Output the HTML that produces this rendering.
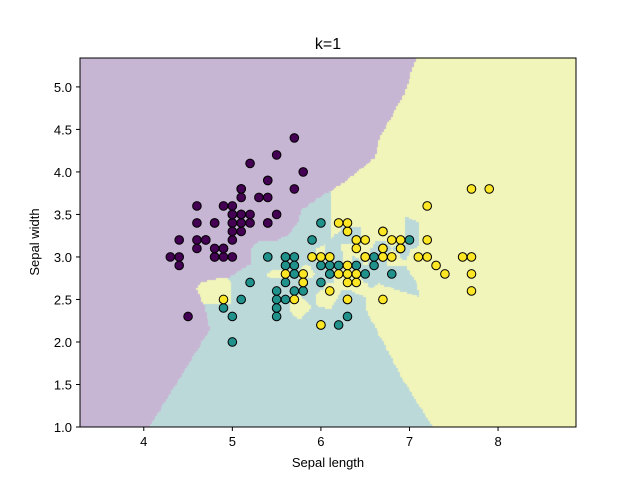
<!DOCTYPE html>
<html><head><meta charset="utf-8"><style>
body{margin:0;background:#fff;}
#wrap{position:relative;width:640px;height:480px;font-family:"Liberation Sans",sans-serif;}
canvas{position:absolute;left:0;top:0;}
</style></head><body>
<div id="wrap">
<canvas id="bg" width="640" height="480"></canvas>
<svg id="svg" width="640" height="480" style="position:absolute;left:0;top:0"></svg>
</div>
<script>
const sepalLength=[5.1,4.9,4.7,4.6,5.0,5.4,4.6,5.0,4.4,4.9,5.4,4.8,4.8,4.3,5.8,5.7,5.4,5.1,5.7,5.1,5.4,5.1,4.6,5.1,4.8,5.0,5.0,5.2,5.2,4.7,4.8,5.4,5.2,5.5,4.9,5.0,5.5,4.9,4.4,5.1,5.0,4.5,4.4,5.0,5.1,4.8,5.1,4.6,5.3,5.0,
7.0,6.4,6.9,5.5,6.5,5.7,6.3,4.9,6.6,5.2,5.0,5.9,6.0,6.1,5.6,6.7,5.6,5.8,6.2,5.6,5.9,6.1,6.3,6.1,6.4,6.6,6.8,6.7,6.0,5.7,5.5,5.5,5.8,6.0,5.4,6.0,6.7,6.3,5.6,5.5,5.5,6.1,5.8,5.0,5.6,5.7,5.7,6.2,5.1,5.7,
6.3,5.8,7.1,6.3,6.5,7.6,4.9,7.3,6.7,7.2,6.5,6.4,6.8,5.7,5.8,6.4,6.5,7.7,7.7,6.0,6.9,5.6,7.7,6.3,6.7,7.2,6.2,6.1,6.4,7.2,7.4,7.9,6.4,6.3,6.1,7.7,6.3,6.4,6.0,6.9,6.7,6.9,5.8,6.8,6.7,6.7,6.3,6.5,6.2,5.9];
const sepalWidth=[3.5,3.0,3.2,3.1,3.6,3.9,3.4,3.4,2.9,3.1,3.7,3.4,3.0,3.0,4.0,4.4,3.9,3.5,3.8,3.8,3.4,3.7,3.6,3.3,3.4,3.0,3.4,3.5,3.4,3.2,3.1,3.4,4.1,4.2,3.1,3.2,3.5,3.6,3.0,3.4,3.5,2.3,3.2,3.5,3.8,3.0,3.8,3.2,3.7,3.3,
3.2,3.2,3.1,2.3,2.8,2.8,3.3,2.4,2.9,2.7,2.0,3.0,2.2,2.9,2.9,3.1,3.0,2.7,2.2,2.5,3.2,2.8,2.5,2.8,2.9,3.0,2.8,3.0,2.9,2.6,2.4,2.4,2.7,2.7,3.0,3.4,3.1,2.3,3.0,2.5,2.6,3.0,2.6,2.3,2.7,3.0,2.9,2.9,2.5,2.8,
3.3,2.7,3.0,2.9,3.0,3.0,2.5,2.9,2.5,3.6,3.2,2.7,3.0,2.5,2.8,3.2,3.0,3.8,2.6,2.2,3.2,2.8,2.8,2.7,3.3,3.2,2.8,3.0,2.8,3.0,2.8,3.8,2.8,2.8,2.6,3.0,3.4,3.1,3.0,3.1,3.1,3.1,2.7,3.2,3.3,3.0,2.5,3.0,3.4,3.0];
const classCounts=[50,50,50];
const xTicks=[4,5,6,7,8];
const yTicks=[1.0,1.5,2.0,2.5,3.0,3.5,4.0,4.5,5.0];
const kNeighbors=1;

const labels=[];classCounts.forEach((n,c)=>{for(let i=0;i<n;i++)labels.push(c);});
const L=80,R=576,T=58,B=427,X0=3.28,X1=8.88,Y0=1.0,Y1=5.34;
const sx=v=>L+(v-X0)/(X1-X0)*(R-L), sy=v=>B-(v-Y0)/(Y1-Y0)*(B-T);
const ix=p=>X0+(p-L)/(R-L)*(X1-X0), iy=p=>Y0+(B-p)/(B-T)*(Y1-Y0);
const ptCol=['#440154','#21918c','#fde725'];
const bgCol=[[199,182,211],[188,217,218],[242,245,185]];

function predict(x,y){
  const d=sepalLength.map((v,i)=>[(v-x)**2+(sepalWidth[i]-y)**2,i]);
  d.sort((a,b)=>a[0]-b[0]||a[1]-b[1]);
  const votes=[0,0,0];for(let k=0;k<kNeighbors;k++)votes[labels[d[k][1]]]++;
  let best=0;for(let c=1;c<3;c++)if(votes[c]>votes[best])best=c;return best;
}
const ctx=document.getElementById('bg').getContext('2d');
const W=R-L,H=B-T,img=ctx.createImageData(W,H);
const h=0.02,gx=Math.ceil((X1-X0)/h)+1,gy=Math.ceil((Y1-Y0)/h)+1,grid=[];
for(let j=0;j<gy;j++){grid.push([]);for(let i=0;i<gx;i++)grid[j].push(predict(X0+i*h,Y0+j*h));}
for(let py=0;py<H;py++)for(let px=0;px<W;px++){
  const gi=Math.min(gx-1,Math.round((ix(L+px+0.5)-X0)/h)),gj=Math.min(gy-1,Math.round((iy(T+py+0.5)-Y0)/h));
  const c=grid[gj][gi];const o=(py*W+px)*4;const col=bgCol[c];
  img.data[o]=col[0];img.data[o+1]=col[1];img.data[o+2]=col[2];img.data[o+3]=255;
}
ctx.putImageData(img,L,T);

const svg=document.getElementById('svg');const NS='http://www.w3.org/2000/svg';
function mk(t,a,txt){const e=document.createElementNS(NS,t);for(const k in a)e.setAttribute(k,a[k]);if(txt!==undefined)e.textContent=txt;svg.appendChild(e);return e;}
sepalLength.forEach((v,i)=>{
  const c=mk('circle',{cx:sx(v),cy:sy(sepalWidth[i]),r:4.3,fill:ptCol[labels[i]],stroke:'#000','stroke-width':1});
  
  
});
const fr=mk('rect',{x:L,y:T,width:R-L,height:B-T,fill:'none',stroke:'#000','stroke-width':1});

xTicks.forEach(t=>{const x=sx(t);
  const l=mk('line',{x1:x,x2:x,y1:B,y2:B+4,stroke:'#000'});
  const s=mk('text',{x:x,y:B+19,'text-anchor':'middle','font-size':13,'font-family':'Liberation Sans, sans-serif'},String(t));});
yTicks.forEach(t=>{const y=sy(t);
  const l=mk('line',{x1:L-4,x2:L,y1:y,y2:y,stroke:'#000'});
  const s=mk('text',{x:L-8,y:y+5,'text-anchor':'end','font-size':13,'font-family':'Liberation Sans, sans-serif'},t.toFixed(1));});
const tt=mk('text',{x:328,y:49,'text-anchor':'middle','font-size':16,'font-family':'Liberation Sans, sans-serif'},'k=1');

const xl=mk('text',{x:328,y:467,'text-anchor':'middle','font-size':13,'font-family':'Liberation Sans, sans-serif'},'Sepal length');

const yl=mk('text',{x:0,y:0,'text-anchor':'middle','font-size':13,'font-family':'Liberation Sans, sans-serif',transform:'translate(39,242) rotate(-90)'},'Sepal width');

</script>
</body></html>
